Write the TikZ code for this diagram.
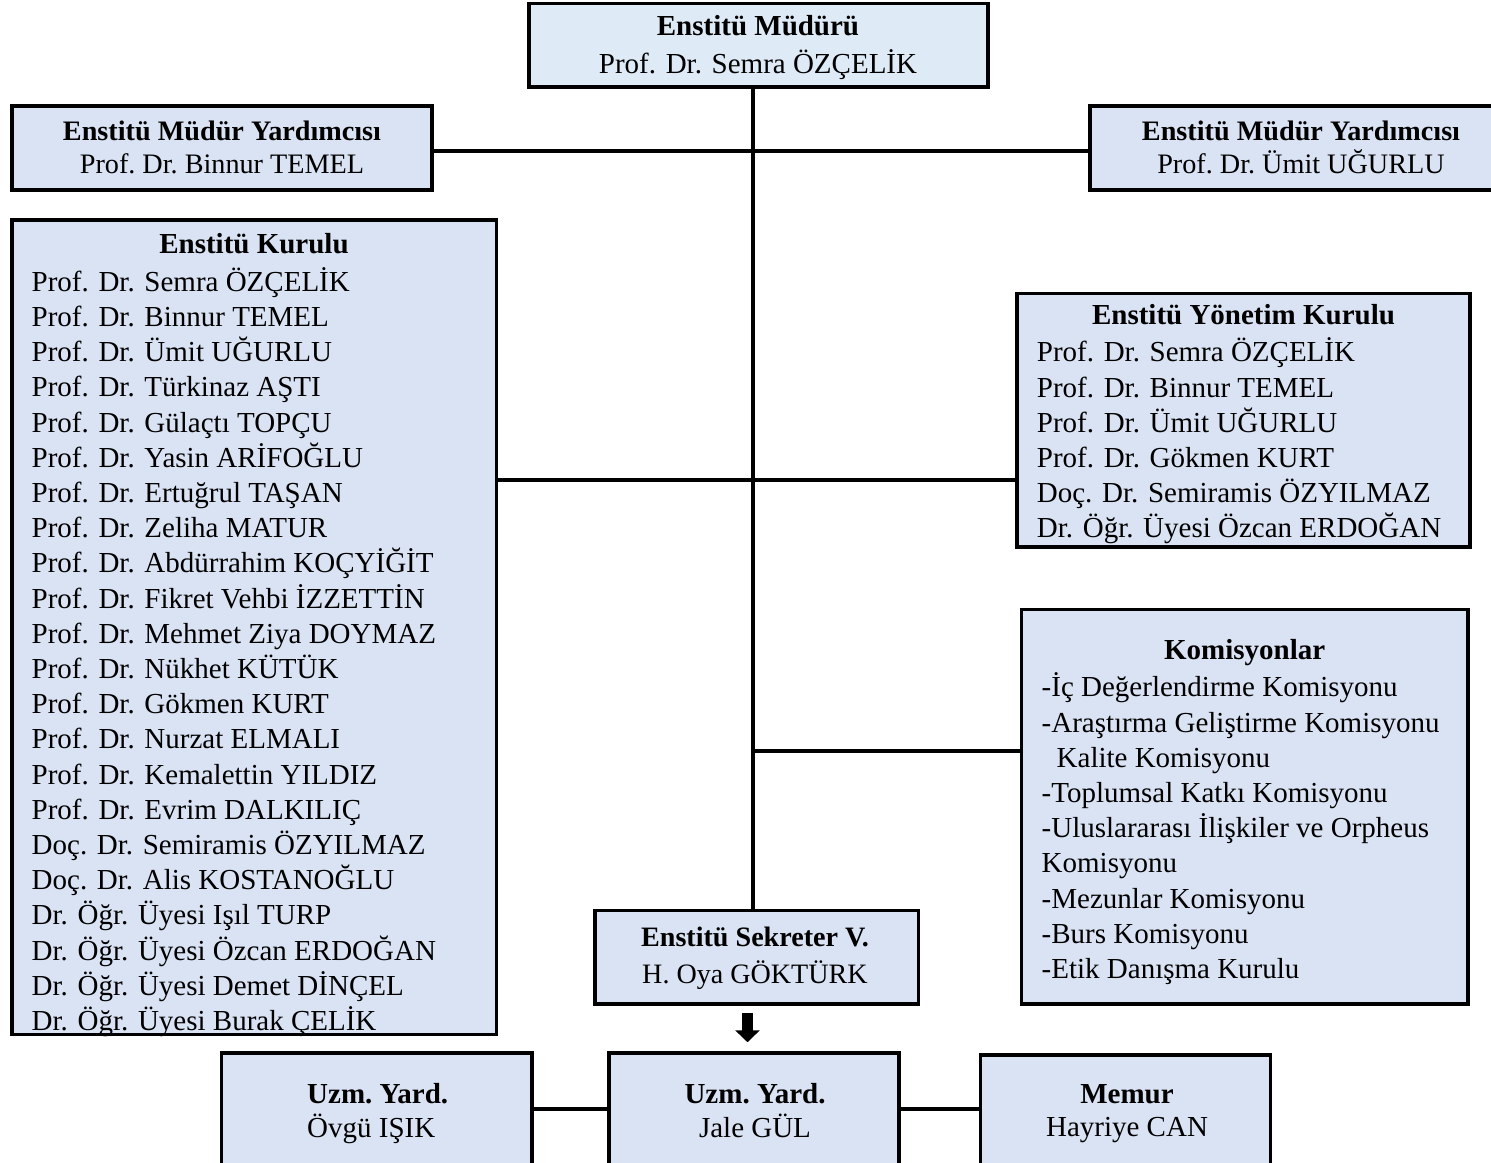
\documentclass[tikz,border=0pt]{standalone}
\usepackage{fontspec}
\setmainfont{Liberation Serif}
\usetikzlibrary{arrows.meta}
\definecolor{boxblue}{HTML}{DAE3F3}
\definecolor{topblue}{HTML}{DEEBF7}
\newcommand\fl{\rule{0pt}{30pt}}
\tikzset{
  box/.style={draw=black, line width=3.5pt, fill=boxblue, inner sep=0pt, rectangle},
  conn/.style={line width=4pt},
  txt/.style={inner sep=0pt, anchor=north, align=center},
  lst/.style={inner sep=0pt, anchor=north west, align=left, font=\fontsize{29}{35.2}\selectfont},
}
\begin{document}
\begin{tikzpicture}[x=1pt,y=-1pt]
\useasboundingbox (0,0) rectangle (1491,1162);

% boxes
\node[box, fill=topblue, minimum width=459pt, minimum height=83.5pt] (mud) at (758.5,45.25) {};
\node[box, minimum width=420pt, minimum height=84pt] (yl) at (222,148) {};
\node[box, minimum width=420pt, minimum height=84pt] (yr) at (1300,148) {};
\node[box, minimum width=484.5pt, minimum height=814.5pt] (kur) at (254.25,627.25) {};
\node[box, minimum width=453pt, minimum height=253.3pt] (yon) at (1243.5,420.35) {};
\node[box, minimum width=446.3pt, minimum height=394.5pt] (kom) at (1244.85,806.75) {};
\node[box, minimum width=323.5pt, minimum height=93.5pt] (sek) at (756.75,957.25) {};
\node[box, minimum width=310.7pt, minimum height=132pt] (u1) at (376.65,1119) {};
\node[box, minimum width=290pt, minimum height=132pt] (u2) at (754,1119) {};
\node[box, minimum width=290pt, minimum height=130pt] (mem) at (1125.5,1120) {};

% helper coordinates
\coordinate (t) at (752.5,500);
\coordinate (h1) at (0,151);
\coordinate (h2) at (0,480);
\coordinate (h3) at (0,750.5);
\coordinate (h4) at (0,1109);
\coordinate (ax) at (747.5,0);

% connectors
\draw[conn] (mud.south -| t) -- (sek.north -| t);
\draw[conn] (yl.east |- h1) -- (yr.west |- h1);
\draw[conn] (kur.east |- h2) -- (yon.west |- h2);
\draw[conn] (t |- h3) -- (kom.west |- h3);
\draw[conn] (u1.east |- h4) -- (u2.west |- h4);
\draw[conn] (u2.east |- h4) -- (mem.west |- h4);
\draw[line width=11pt, -{Triangle[length=12pt,width=24pt]}, shorten <=7pt, shorten >=9pt]
  (sek.south -| ax) -- (u2.north -| ax);

% texts
\node[txt, font=\fontsize{29}{37.8}\selectfont] (mudT) at (758,5.5)
  {\fl\textbf{Enstitü Müdürü}\\Prof. Dr. Semra ÖZÇELİK};
\node[txt, font=\fontsize{28.2}{33}\selectfont\frenchspacing] (ylT) at (222,110)
  {\fl\textbf{Enstitü Müdür Yardımcısı}\\Prof. Dr. Binnur TEMEL};
\node[txt, font=\fontsize{28.2}{33}\selectfont\frenchspacing] (yrT) at (1301,110)
  {\fl\textbf{Enstitü Müdür Yardımcısı}\\Prof. Dr. Ümit UĞURLU};
\node[txt, font=\fontsize{29}{35}\selectfont] (kurT) at (254,223.3)
  {\fl\textbf{Enstitü Kurulu}};
\node[lst] (kurL) at (31.5,261)
  {\fl Prof. Dr. Semra ÖZÇELİK\\
   Prof. Dr. Binnur TEMEL\\
   Prof. Dr. Ümit UĞURLU\\
   Prof. Dr. Türkinaz AŞTI\\
   Prof. Dr. Gülaçtı TOPÇU\\
   Prof. Dr. Yasin ARİFOĞLU\\
   Prof. Dr. Ertuğrul TAŞAN\\
   Prof. Dr. Zeliha MATUR\\
   Prof. Dr. Abdürrahim KOÇYİĞİT\\
   Prof. Dr. Fikret Vehbi İZZETTİN\\
   Prof. Dr. Mehmet Ziya DOYMAZ\\
   Prof. Dr. Nükhet KÜTÜK\\
   Prof. Dr. Gökmen KURT\\
   Prof. Dr. Nurzat ELMALI\\
   Prof. Dr. Kemalettin YILDIZ\\
   Prof. Dr. Evrim DALKILIÇ\\
   Doç. Dr. Semiramis ÖZYILMAZ\\
   Doç. Dr. Alis KOSTANOĞLU\\
   Dr. Öğr. Üyesi Işıl TURP\\
   Dr. Öğr. Üyesi Özcan ERDOĞAN\\
   Dr. Öğr. Üyesi Demet DİNÇEL\\
   Dr. Öğr. Üyesi Burak ÇELİK};
\node[txt, font=\fontsize{29}{35}\selectfont] (yonT) at (1243.5,294.3)
  {\fl\textbf{Enstitü Yönetim Kurulu}};
\node[lst] (yonL) at (1036.7,331.7)
  {\fl Prof. Dr. Semra ÖZÇELİK\\
   Prof. Dr. Binnur TEMEL\\
   Prof. Dr. Ümit UĞURLU\\
   Prof. Dr. Gökmen KURT\\
   Doç. Dr. Semiramis ÖZYILMAZ\\
   Dr. Öğr. Üyesi Özcan ERDOĞAN};
\node[txt, font=\fontsize{29}{35}\selectfont] (komT) at (1244.7,629.3)
  {\fl\textbf{Komisyonlar}};
\node[lst] (komL) at (1041.5,666.7)
  {\fl -İç Değerlendirme Komisyonu\\
   -Araştırma Geliştirme Komisyonu\\
   \hspace*{15pt}Kalite Komisyonu\\
   -Toplumsal Katkı Komisyonu\\
   -Uluslararası İlişkiler ve Orpheus\\
   Komisyonu\\
   -Mezunlar Komisyonu\\
   -Burs Komisyonu\\
   -Etik Danışma Kurulu};
\node[txt, font=\fontsize{28.1}{36.6}\selectfont] (sekT) at (755,916.7)
  {\fl\textbf{Enstitü Sekreter V.}\\H. Oya GÖKTÜRK};
\node[inner sep=0pt, anchor=north west, align=left, font=\fontsize{29}{34}\selectfont\frenchspacing] (u1T) at (307,1073.3)
  {\fl\textbf{Uzm. Yard.}\\Övgü IŞIK};
\node[txt, font=\fontsize{29}{34}\selectfont\frenchspacing] (u2T) at (755,1073.3)
  {\fl\textbf{Uzm. Yard.}\\Jale GÜL};
\node[txt, font=\fontsize{29}{33.4}\selectfont] (memT) at (1127,1073.3)
  {\fl\textbf{Memur}\\Hayriye CAN};
\end{tikzpicture}
\end{document}
